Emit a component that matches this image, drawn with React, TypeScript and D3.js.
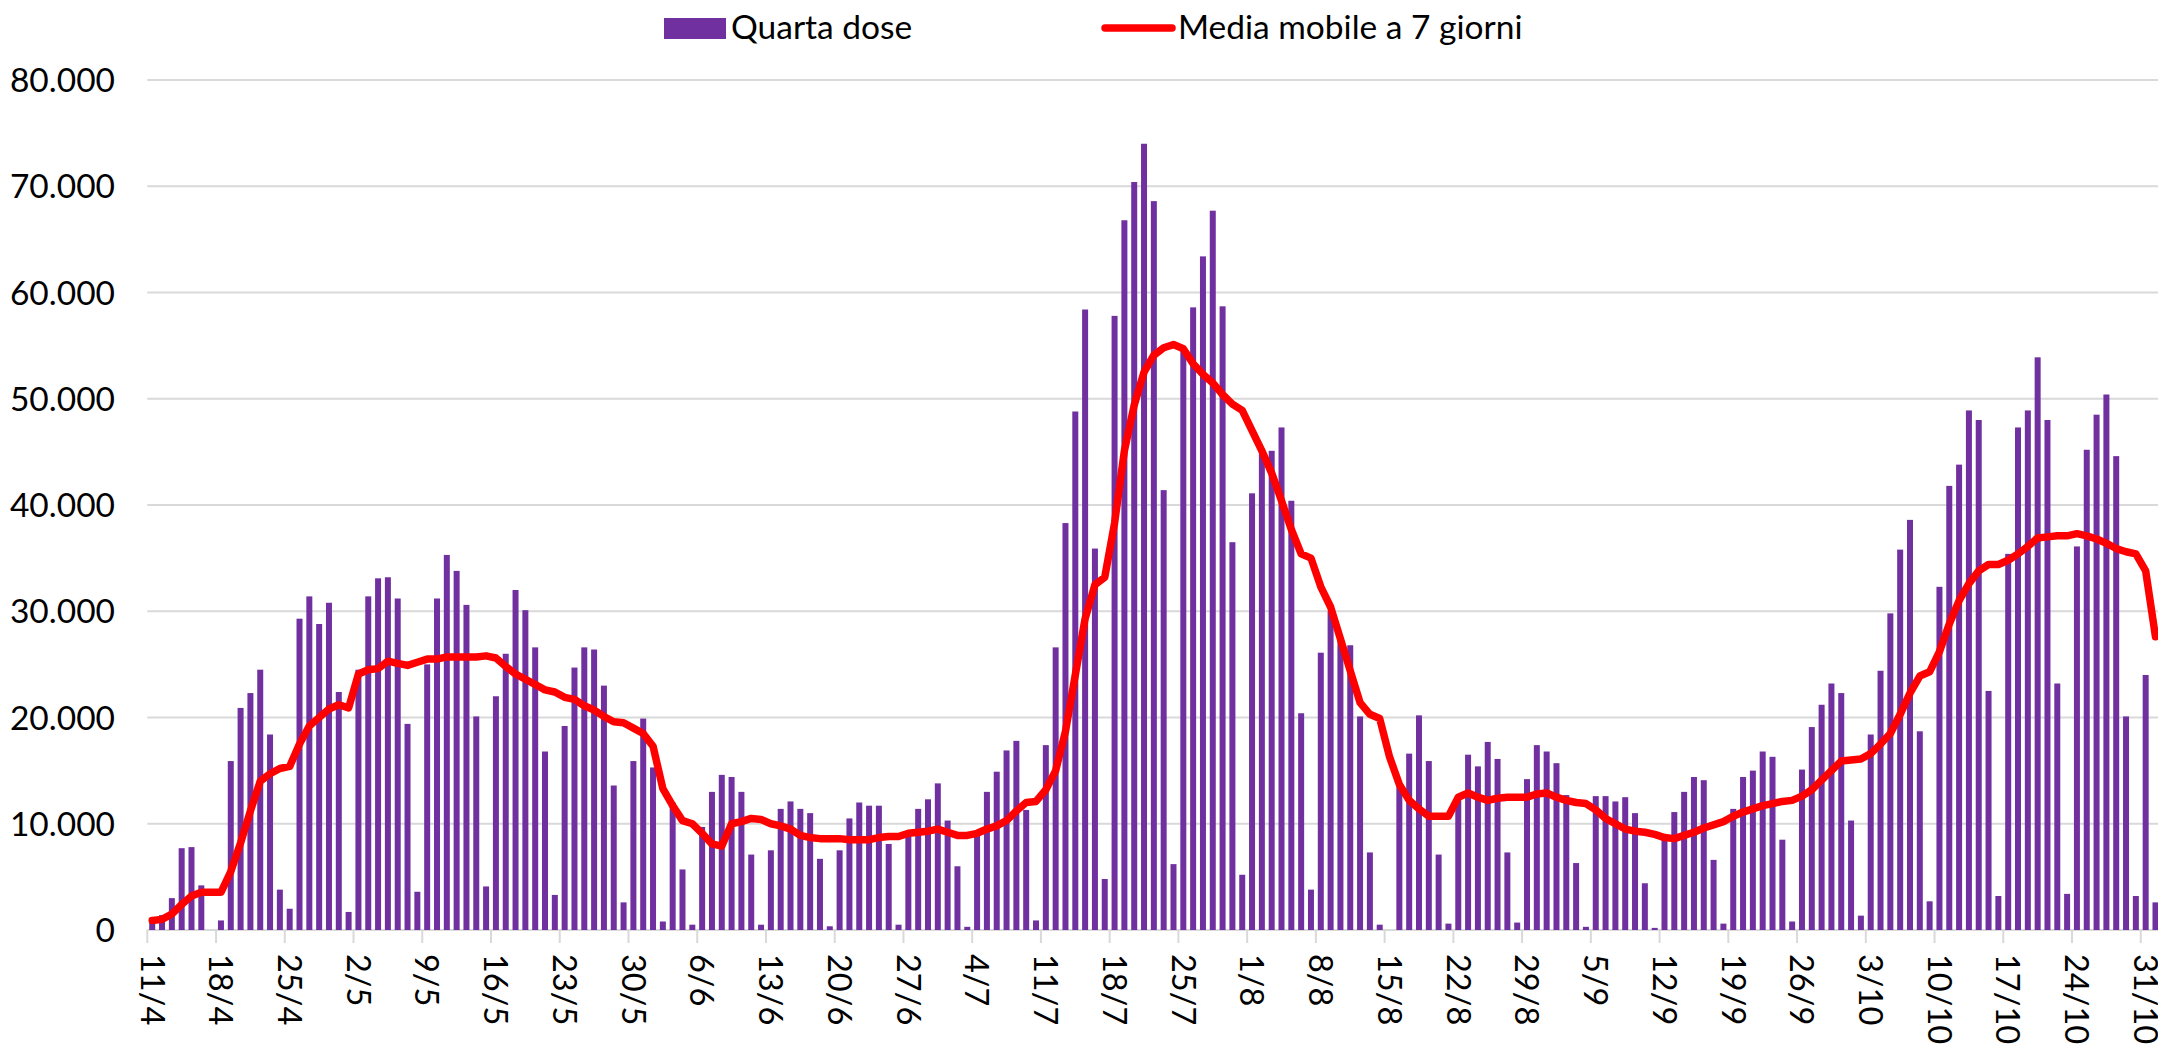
import React from 'react';
import * as d3 from 'd3';

// days shown: 11/4/2022 -> 1/11/2022
const days = d3.timeDay.range(new Date(2022, 3, 11), new Date(2022, 10, 2));
const fmtDay = d3.timeFormat('%-d/%-m');
const categories = days.map(d => fmtDay(d));

const tickLabels = [
  '11/4', '18/4', '25/4', '2/5', '9/5', '16/5', '23/5', '30/5', '6/6', '13/6',
  '20/6', '27/6', '4/7', '11/7', '18/7', '25/7', '1/8', '8/8', '15/8', '22/8',
  '29/8', '5/9', '12/9', '19/9', '26/9', '3/10', '10/10', '17/10', '24/10', '31/10',
];

// Quarta dose, daily administrations
const doses = [
  1000, 1400, 3000, 7700, 7800, 4200, 0, 900, 15900, 20900, 22300, 24500, 18400, 3800,
  2000, 29300, 31400, 28800, 30800, 22400, 1700, 24500, 31400, 33100, 33200, 31200, 19400, 3600,
  25000, 31200, 35300, 33800, 30600, 20100, 4100, 22000, 26000, 32000, 30100, 26600, 16800, 3300,
  19200, 24700, 26600, 26400, 23000, 13600, 2600, 15900, 19900, 15300, 800, 12000, 5700, 500,
  9700, 13000, 14600, 14400, 13000, 7100, 500, 7500, 11400, 12100, 11400, 11000, 6700, 350,
  7500, 10500, 12000, 11700, 11700, 8100, 500, 9300, 11400, 12300, 13800, 10300, 6000, 300,
  9000, 13000, 14900, 16900, 17800, 11300, 900, 17400, 26600, 38300, 48800, 58400, 35900, 4800,
  57800, 66800, 70400, 74000, 68600, 41400, 6200, 54500, 58600, 63400, 67700, 58700, 36500, 5200,
  41100, 45300, 45100, 47300, 40400, 20400, 3800, 26100, 30000, 27500, 26800, 20100, 7300, 500,
  0, 13700, 16600, 20200, 15900, 7100, 600, 12400, 16500, 15400, 17700, 16100, 7300, 700,
  14200, 17400, 16800, 15700, 12700, 6300, 300, 12600, 12600, 12100, 12500, 11000, 4400, 200,
  8600, 11100, 13000, 14400, 14100, 6600, 600, 11400, 14400, 15000, 16800, 16300, 8500, 800,
  15100, 19100, 21200, 23200, 22300, 10300, 1350, 18400, 24400, 29800, 35800, 38600, 18700, 2700,
  32300, 41800, 43800, 48900, 48000, 22500, 3200, 35400, 47300, 48900, 53900, 48000, 23200, 3400,
  36100, 45200, 48500, 50400, 44600, 20100, 3200, 24000, 2600,
];

// Media mobile a 7 giorni
const movingAvg = [
  900, 1000, 1500, 2400, 3200, 3550, 3550, 3550, 5500, 8200, 11200, 14000, 14700, 15200,
  15400, 17500, 19200, 20000, 20800, 21200, 20900, 24100, 24500, 24600, 25300, 25100, 24900, 25200,
  25500, 25500, 25700, 25700, 25700, 25700, 25800, 25600, 24800, 24100, 23600, 23100, 22600, 22400,
  21900, 21700, 21100, 20700, 20100, 19600, 19500, 19000, 18500, 17300, 13300, 11700, 10300, 10000,
  9100, 8100, 7900, 10000, 10200, 10500, 10400, 10000, 9800, 9500, 8900, 8700, 8600, 8600,
  8600, 8500, 8500, 8500, 8700, 8800, 8800, 9100, 9200, 9300, 9500, 9200, 8900, 8900,
  9100, 9500, 9800, 10300, 11200, 12000, 12100, 13200, 15000, 18700, 24000, 29300, 32500, 33200,
  38300, 45100, 49400, 52500, 54100, 54800, 55100, 54700, 53300, 52300, 51500, 50400, 49500, 48900,
  47000, 45100, 43000, 40400, 37700, 35400, 35000, 32300, 30400, 27400, 24400, 21400, 20300, 19900,
  16300, 13700, 12200, 11400, 10700, 10700, 10700, 12500, 12900, 12500, 12200, 12400, 12500, 12500,
  12500, 12800, 12900, 12500, 12200, 12000, 11900, 11300, 10500, 10000, 9500, 9300, 9200, 9000,
  8700, 8600, 8900, 9200, 9600, 9900, 10200, 10700, 11100, 11400, 11700, 11900, 12100, 12200,
  12600, 13200, 14100, 15000, 15900, 16000, 16100, 16600, 17500, 18500, 20300, 22300, 23900, 24300,
  26200, 28800, 31000, 32600, 33800, 34400, 34400, 34800, 35400, 36100, 36900, 37000, 37100, 37100,
  37300, 37100, 36800, 36400, 35900, 35600, 35400, 33800, 27600,
];

const yTicks = [0, 10000, 20000, 30000, 40000, 50000, 60000, 70000, 80000];

const W = 2158;
const H = 1044;
const left = 147.3;
const dayStep = 9.82;
const bottom = 930;
const top = 80;
const purple = '#7030A0';
const red = '#FF0000';
const grid = '#D9D9D9';
const font = 'Lato, "Noto Sans", sans-serif';

const itLocale = d3.formatLocale({ decimal: ',', thousands: '.', grouping: [3], currency: ['€', ''] });
const fmtY = itLocale.format(',');

export default function App() {
  const pad = 0.39;
  const x = d3
    .scaleBand<number>()
    .domain(categories.map((_, i) => i))
    .range([left, left + categories.length * dayStep])
    .paddingInner(pad)
    .paddingOuter(pad / 2);
  const y = d3.scaleLinear().domain([0, 80000]).range([bottom, top]);
  const bw = x.bandwidth();
  const step = x.step();
  const edge = (i: number) => (x(i) as number) - (step - bw) / 2;

  const line = d3
    .line<number>()
    .x((_, i) => (x(i) as number) + bw / 2)
    .y(d => y(d));

  return (
    <svg
      width={W}
      height={H}
      style={{ position: 'absolute', left: 0, top: 0, background: '#fff' }}
      fontFamily={font}
    >
      {/* grid */}
      {yTicks.map(t => (
        <g key={t}>
          <line x1={left} x2={W} y1={y(t)} y2={y(t)} stroke={grid} strokeWidth={2} />
          <text x={115} y={y(t) + 12} textAnchor="end" fontSize={33.5} fill="#000">
            {fmtY(t)}
          </text>
        </g>
      ))}

      {/* bars */}
      {doses.map((v, i) => (
        <rect key={i} x={x(i)} y={y(v)} width={bw} height={bottom - y(v)} fill={purple} />
      ))}

      {/* x axis ticks and labels */}
      {tickLabels.map(lab => {
        const i = categories.indexOf(lab);
        const tx = edge(i);
        const cx = (x(i) as number) + bw / 2;
        return (
          <g key={lab}>
            <line x1={tx} x2={tx} y1={bottom} y2={bottom + 13} stroke={grid} strokeWidth={2} />
            <text
              transform={`translate(${cx},954) rotate(90)`}
              dy="0.36em"
              textAnchor="start"
              fontSize={32.5}
              fill="#000"
            >
              {lab}
            </text>
          </g>
        );
      })}

      {/* moving average */}
      <path
        d={line(movingAvg) || ''}
        fill="none"
        stroke={red}
        strokeWidth={7.5}
        strokeLinejoin="round"
        strokeLinecap="round"
      />

      {/* legend */}
      <rect x={664} y={18} width={62} height={21} fill={purple} />
      <text x={731} y={39} fontSize={33.5} fill="#000">
        Quarta dose
      </text>
      <line x1={1105} x2={1172} y1={28} y2={28} stroke={red} strokeWidth={7.5} strokeLinecap="round" />
      <text x={1178} y={39} fontSize={33.5} fill="#000">
        Media mobile a 7 giorni
      </text>
    </svg>
  );
}
